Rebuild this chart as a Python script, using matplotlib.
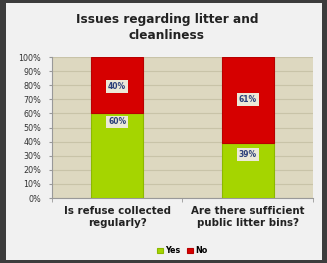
import matplotlib.pyplot as plt
from matplotlib.patches import Rectangle

categories = ["Is refuse collected\nregularly?", "Are there sufficient\npublic litter bins?"]
yes = [60, 39]
no = [40, 61]
ticks = list(range(0, 101, 10))

fig = plt.figure(figsize=(3.27, 2.63), dpi=100)
fig.patch.set_facecolor("#3c3c3c")
# light panel inside the dark frame
fig.patches.append(Rectangle((0.018, 0.01), 0.967, 0.978, transform=fig.transFigure,
                             facecolor="#f1f1f1", edgecolor="none", zorder=-1))

ax = fig.add_axes([0.159, 0.247, 0.798, 0.536])
ax.set_facecolor("#ddd8c0")
x = [0, 1]
w = 0.4
ax.bar(x, yes, w, color="#a5d500", edgecolor="#8cb800", linewidth=0.8, label="Yes", zorder=3)
ax.bar(x, no, w, bottom=yes, color="#d60000", edgecolor="#b80000", linewidth=0.8, label="No", zorder=3)

yes_pos = [54, 31]
no_pos = [79, 70]
for i in range(2):
    ax.text(x[i], yes_pos[i], f"{yes[i]}%", ha="center", va="center", fontsize=5.5,
            fontweight="bold", color="#2b3f7a", zorder=4,
            bbox=dict(boxstyle="square,pad=0.25", fc="#ece9d8", ec="none"))
    ax.text(x[i], no_pos[i], f"{no[i]}%", ha="center", va="center", fontsize=5.5,
            fontweight="bold", color="#2b3f7a", zorder=4,
            bbox=dict(boxstyle="square,pad=0.25", fc="#ece9d8", ec="none"))

ax.set_xlim(-0.5, 1.5)
ax.set_ylim(0, 100)
ax.set_yticks(ticks)
ax.set_yticklabels([f"{t}%" for t in ticks], fontsize=5.8, color="#333333")
ax.set_xticks(x)
ax.set_xticks([-0.5, 0.5, 1.5], minor=True)
ax.set_xticklabels(categories, fontsize=7.4, fontweight="bold", color="#222222")
ax.grid(axis="y", color="#c8c3a8", linewidth=0.8, zorder=0)
for s in ["top", "right"]:
    ax.spines[s].set_visible(False)
ax.spines["left"].set_color("#999999")
ax.spines["bottom"].set_color("#999999")
ax.tick_params(axis="y", length=2, color="#999999", pad=6)
ax.tick_params(axis="x", which="major", length=0, pad=6)
ax.tick_params(axis="x", which="minor", length=3, color="#999999")

fig.text(0.51, 0.895, "Issues regarding litter and\ncleanliness", ha="center", va="center",
         fontsize=8.7, fontweight="bold", color="#222222", linespacing=1.25)

ax.legend(loc="upper center", bbox_to_anchor=(0.5, -0.29), ncol=2, frameon=False,
          handlelength=0.7, handleheight=0.7, handletextpad=0.3,
          columnspacing=0.8, prop={"weight": "bold", "size": 5.8})

plt.savefig("out.png", dpi=100, facecolor=fig.get_facecolor())
